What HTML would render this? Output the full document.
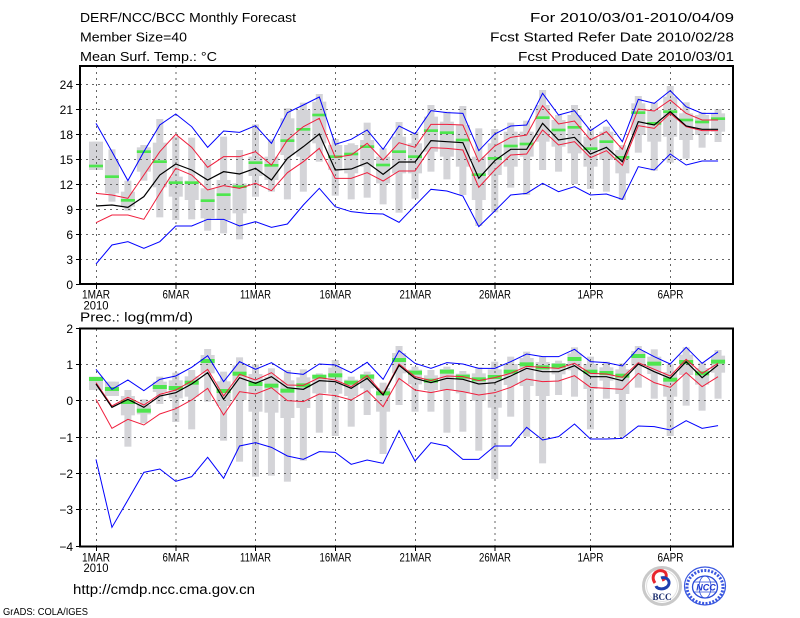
<!DOCTYPE html>
<html><head><meta charset="utf-8"><style>
html,body{margin:0;padding:0;background:#fff;}
svg{display:block;}
text{font-family:"Liberation Sans","Noto Sans CJK SC",sans-serif;fill:#000;}
.ln{fill:none;vector-effect:non-scaling-stroke;stroke-linejoin:miter;}
.bl{stroke:#0000ff;stroke-width:1;}
.rd{stroke:#f01e3c;stroke-width:1;}
.bk{stroke:#000;stroke-width:1.2;}
.gr{fill:#d4d4d8;}
.gn{fill:#4ee64e;}
.grid{stroke:#666;stroke-width:1;stroke-dasharray:2 4;fill:none;}
</style></head><body>
<svg width="800" height="618" viewBox="0 0 800 618" xmlns="http://www.w3.org/2000/svg">
<rect width="800" height="618" fill="#fff"/>

<!-- Header -->
<text x="80" y="22" font-size="13" textLength="216" lengthAdjust="spacingAndGlyphs">DERF/NCC/BCC Monthly Forecast</text>
<text x="80" y="41.5" font-size="13" textLength="107" lengthAdjust="spacingAndGlyphs">Member Size=40</text>
<text x="80" y="61" font-size="13" textLength="137" lengthAdjust="spacingAndGlyphs">Mean Surf. Temp.: °C</text>
<text x="734" y="22" font-size="13" text-anchor="end" textLength="204" lengthAdjust="spacingAndGlyphs">For 2010/03/01-2010/04/09</text>
<text x="734" y="41.5" font-size="13" text-anchor="end" textLength="244" lengthAdjust="spacingAndGlyphs">Fcst Started Refer Date 2010/02/28</text>
<text x="734" y="61" font-size="13" text-anchor="end" textLength="216" lengthAdjust="spacingAndGlyphs">Fcst Produced Date 2010/03/01</text>

<!-- ================= TOP CHART ================= -->
<g transform="translate(96,60) scale(15.95,0.333333)">
<g class="gr">
<rect x="-0.22" y="245" width="0.44" height="85"/><rect x="0.78" y="268" width="0.44" height="157"/><rect x="1.78" y="362" width="0.44" height="90"/><rect x="2.78" y="255" width="0.44" height="107"/><rect x="3.78" y="177" width="0.44" height="295"/><rect x="4.78" y="230" width="0.44" height="250"/><rect x="5.78" y="233" width="0.44" height="245"/><rect x="6.78" y="300" width="0.44" height="212"/><rect x="7.78" y="230" width="0.44" height="290"/><rect x="8.78" y="270" width="0.44" height="268"/>
<rect x="9.78" y="193" width="0.44" height="217"/><rect x="10.78" y="238" width="0.44" height="157"/><rect x="11.78" y="145" width="0.44" height="273"/><rect x="12.78" y="128" width="0.44" height="267"/><rect x="13.78" y="102" width="0.44" height="203"/><rect x="14.78" y="237" width="0.44" height="170"/><rect x="15.78" y="250" width="0.44" height="168"/><rect x="16.78" y="188" width="0.44" height="225"/><rect x="17.78" y="265" width="0.44" height="168"/><rect x="18.78" y="186" width="0.44" height="272"/>
<rect x="19.78" y="216" width="0.44" height="200"/><rect x="20.78" y="135" width="0.44" height="200"/><rect x="21.78" y="155" width="0.44" height="203"/><rect x="22.78" y="138" width="0.44" height="267"/><rect x="23.78" y="205" width="0.44" height="293"/><rect x="24.78" y="207" width="0.44" height="250"/><rect x="25.78" y="188" width="0.44" height="195"/><rect x="26.78" y="182" width="0.44" height="223"/><rect x="27.78" y="90" width="0.44" height="240"/><rect x="28.78" y="165" width="0.44" height="170"/>
<rect x="29.78" y="135" width="0.44" height="237"/><rect x="30.78" y="205" width="0.44" height="182"/><rect x="31.78" y="200" width="0.44" height="195"/><rect x="32.78" y="255" width="0.44" height="165"/><rect x="33.78" y="108" width="0.44" height="170"/><rect x="34.78" y="127" width="0.44" height="205"/><rect x="35.78" y="78" width="0.44" height="230"/><rect x="36.78" y="127" width="0.44" height="169"/><rect x="37.78" y="157" width="0.44" height="106"/><rect x="38.78" y="147" width="0.44" height="99"/>
<rect x="-0.44" y="245" width="0.88" height="85"/><rect x="0.56" y="300" width="0.88" height="100"/><rect x="1.56" y="395" width="0.88" height="45"/><rect x="2.56" y="262" width="0.88" height="73"/><rect x="3.56" y="248" width="0.88" height="134"/><rect x="4.56" y="350" width="0.88" height="60"/><rect x="5.56" y="362" width="0.88" height="58"/><rect x="6.56" y="385" width="0.88" height="90"/><rect x="7.56" y="360" width="0.88" height="120"/><rect x="8.56" y="370" width="0.88" height="90"/>
<rect x="9.56" y="290" width="0.88" height="58"/><rect x="10.56" y="290" width="0.88" height="70"/><rect x="11.56" y="175" width="0.88" height="110"/><rect x="12.56" y="150" width="0.88" height="140"/><rect x="13.56" y="125" width="0.88" height="125"/><rect x="14.56" y="255" width="0.88" height="75"/><rect x="15.56" y="255" width="0.88" height="85"/><rect x="16.56" y="240" width="0.88" height="80"/><rect x="17.56" y="290" width="0.88" height="80"/><rect x="18.56" y="230" width="0.88" height="110"/>
<rect x="19.56" y="250" width="0.88" height="90"/><rect x="20.56" y="170" width="0.88" height="105"/><rect x="21.56" y="185" width="0.88" height="105"/><rect x="22.56" y="195" width="0.88" height="125"/><rect x="23.56" y="290" width="0.88" height="130"/><rect x="24.56" y="250" width="0.88" height="95"/><rect x="25.56" y="215" width="0.88" height="105"/><rect x="26.56" y="215" width="0.88" height="75"/><rect x="27.56" y="135" width="0.88" height="110"/><rect x="28.56" y="180" width="0.88" height="80"/>
<rect x="29.56" y="165" width="0.88" height="115"/><rect x="30.56" y="230" width="0.88" height="90"/><rect x="31.56" y="215" width="0.88" height="85"/><rect x="32.56" y="270" width="0.88" height="70"/><rect x="33.56" y="130" width="0.88" height="95"/><rect x="34.56" y="150" width="0.88" height="95"/><rect x="35.56" y="110" width="0.88" height="120"/><rect x="36.56" y="160" width="0.88" height="80"/><rect x="37.56" y="165" width="0.88" height="60"/><rect x="38.56" y="160" width="0.88" height="55"/>
</g>
</g>

<!-- top grid -->
<g class="grid">
<line x1="80" y1="259.5" x2="733" y2="259.5"/><line x1="80" y1="234.5" x2="733" y2="234.5"/><line x1="80" y1="209.5" x2="733" y2="209.5"/><line x1="80" y1="184.5" x2="733" y2="184.5"/><line x1="80" y1="159.5" x2="733" y2="159.5"/><line x1="80" y1="134.5" x2="733" y2="134.5"/><line x1="80" y1="109.5" x2="733" y2="109.5"/><line x1="80" y1="84.5" x2="733" y2="84.5"/>
<line x1="96.5" y1="66" x2="96.5" y2="284"/><line x1="176" y1="66" x2="176" y2="284"/><line x1="255.5" y1="66" x2="255.5" y2="284"/><line x1="335.5" y1="66" x2="335.5" y2="284"/><line x1="415.5" y1="66" x2="415.5" y2="284"/><line x1="495" y1="66" x2="495" y2="284"/><line x1="590.5" y1="66" x2="590.5" y2="284"/><line x1="670.5" y1="66" x2="670.5" y2="284"/>
</g>

<g transform="translate(96,60) scale(15.95,0.333333)">
<g class="gn">
<rect x="-0.44" y="314" width="0.88" height="8"/><rect x="0.56" y="346" width="0.88" height="8"/><rect x="1.56" y="417" width="0.88" height="8"/><rect x="2.56" y="271" width="0.88" height="8"/><rect x="3.56" y="301" width="0.88" height="8"/><rect x="4.56" y="364" width="0.88" height="8"/><rect x="5.56" y="364" width="0.88" height="8"/><rect x="6.56" y="418" width="0.88" height="8"/><rect x="7.56" y="400" width="0.88" height="8"/><rect x="8.56" y="376" width="0.88" height="8"/>
<rect x="9.56" y="304" width="0.88" height="8"/><rect x="10.56" y="312" width="0.88" height="8"/><rect x="11.56" y="238" width="0.88" height="8"/><rect x="12.56" y="204" width="0.88" height="8"/><rect x="13.56" y="161" width="0.88" height="8"/><rect x="14.56" y="286" width="0.88" height="8"/><rect x="15.56" y="278" width="0.88" height="8"/><rect x="16.56" y="256" width="0.88" height="8"/><rect x="17.56" y="311" width="0.88" height="8"/><rect x="18.56" y="271" width="0.88" height="8"/>
<rect x="19.56" y="286" width="0.88" height="8"/><rect x="20.56" y="208" width="0.88" height="8"/><rect x="21.56" y="214" width="0.88" height="8"/><rect x="22.56" y="236" width="0.88" height="8"/><rect x="23.56" y="340" width="0.88" height="8"/><rect x="24.56" y="291" width="0.88" height="8"/><rect x="25.56" y="254" width="0.88" height="8"/><rect x="26.56" y="248" width="0.88" height="8"/><rect x="27.56" y="169" width="0.88" height="8"/><rect x="28.56" y="206" width="0.88" height="8"/>
<rect x="29.56" y="198" width="0.88" height="8"/><rect x="30.56" y="262" width="0.88" height="8"/><rect x="31.56" y="241" width="0.88" height="8"/><rect x="32.56" y="288" width="0.88" height="8"/><rect x="33.56" y="154" width="0.88" height="8"/><rect x="34.56" y="186" width="0.88" height="8"/><rect x="35.56" y="151" width="0.88" height="8"/><rect x="36.56" y="176" width="0.88" height="8"/><rect x="37.56" y="182" width="0.88" height="8"/><rect x="38.56" y="172" width="0.88" height="8"/>
</g>
<polyline class="ln bl" points="0,190 1,275 2,362 3,275 4,195 5,162 6,200 7,262 8,213 9,217 10,197 11,250 12,158 13,135 14,111 15,253 16,238 17,210 18,268 19,198 20,222 21,152 22,158 23,160 24,272 25,222 26,198 27,195 28,100 29,165 30,152 31,212 32,180 33,245 34,118 35,130 36,92 37,140 38,160 39,160"/>
<polyline class="ln bl" points="0,612 1,555 2,545 3,565 4,545 5,498 6,498 7,478 8,478 9,498 10,485 11,502 12,492 13,435 14,385 15,440 16,455 17,460 18,462 19,487 20,437 21,388 22,393 23,408 24,500 25,453 26,405 27,400 28,370 29,395 30,380 31,405 32,402 33,418 34,320 35,330 36,282 37,315 38,303 39,303"/>
<polyline class="ln rd" points="0,400 1,405 2,415 3,345 4,275 5,223 6,262 7,322 8,290 9,290 10,275 11,315 12,240 13,200 14,175 15,292 16,285 17,250 18,300 19,248 20,262 21,193 22,193 23,195 24,305 25,258 26,232 27,225 28,137 29,192 30,183 31,240 32,215 33,268 34,147 35,153 36,120 37,160 38,180 39,180"/>
<polyline class="ln rd" points="0,488 1,465 2,465 3,478 4,400 5,325 6,345 7,390 8,377 9,385 10,370 11,392 12,338 13,305 14,265 15,355 16,355 17,338 18,363 19,333 20,333 21,263 22,265 23,270 24,382 25,330 26,285 27,282 28,210 29,255 30,245 31,293 32,272 33,316 34,197 35,205 36,160 37,200 38,212 39,212"/>
<polyline class="ln bk" points="0,438 1,435 2,442 3,410 4,345 5,312 6,330 7,360 8,335 9,342 10,325 11,360 12,295 13,260 14,222 15,330 16,327 17,308 18,343 19,306 20,306 21,242 22,245 23,248 24,355 25,302 26,268 27,268 28,190 29,240 30,232 31,282 32,262 33,305 34,185 35,195 36,155 37,198 38,208 39,208"/>
</g>

<rect x="80" y="66" width="653" height="218" fill="none" stroke="#000" stroke-width="2"/>
<g stroke="#000" stroke-width="1">
<line x1="76" y1="284.5" x2="80" y2="284.5"/><line x1="76" y1="259.5" x2="80" y2="259.5"/><line x1="76" y1="234.5" x2="80" y2="234.5"/><line x1="76" y1="209.5" x2="80" y2="209.5"/><line x1="76" y1="184.5" x2="80" y2="184.5"/><line x1="76" y1="159.5" x2="80" y2="159.5"/><line x1="76" y1="134.5" x2="80" y2="134.5"/><line x1="76" y1="109.5" x2="80" y2="109.5"/><line x1="76" y1="84.5" x2="80" y2="84.5"/>
<line x1="96.5" y1="285" x2="96.5" y2="289"/><line x1="176" y1="285" x2="176" y2="289"/><line x1="255.5" y1="285" x2="255.5" y2="289"/><line x1="335.5" y1="285" x2="335.5" y2="289"/><line x1="415.5" y1="285" x2="415.5" y2="289"/><line x1="495" y1="285" x2="495" y2="289"/><line x1="590.5" y1="285" x2="590.5" y2="289"/><line x1="670.5" y1="285" x2="670.5" y2="289"/>
</g>
<g font-size="12" text-anchor="end">
<text x="73" y="289">0</text><text x="73" y="264">3</text><text x="73" y="239">6</text><text x="73" y="214">9</text><text x="73" y="189">12</text><text x="73" y="164">15</text><text x="73" y="139">18</text><text x="73" y="114">21</text><text x="73" y="89">24</text>
</g>
<g font-size="11.5" text-anchor="middle">
<text x="96" y="298.5" textLength="28" lengthAdjust="spacingAndGlyphs">1MAR</text>
<text x="96" y="309.5" textLength="25" lengthAdjust="spacingAndGlyphs">2010</text>
<text x="176" y="298.5" textLength="27" lengthAdjust="spacingAndGlyphs">6MAR</text>
<text x="255.5" y="298.5" textLength="31" lengthAdjust="spacingAndGlyphs">11MAR</text>
<text x="335.5" y="298.5" textLength="32" lengthAdjust="spacingAndGlyphs">16MAR</text>
<text x="415.5" y="298.5" textLength="32" lengthAdjust="spacingAndGlyphs">21MAR</text>
<text x="495" y="298.5" textLength="32" lengthAdjust="spacingAndGlyphs">26MAR</text>
<text x="590.5" y="298.5" textLength="26" lengthAdjust="spacingAndGlyphs">1APR</text>
<text x="670.5" y="298.5" textLength="26" lengthAdjust="spacingAndGlyphs">6APR</text>
</g>

<!-- ================= BOTTOM CHART ================= -->
<text x="80" y="321.5" font-size="13" textLength="113" lengthAdjust="spacingAndGlyphs">Prec.: log(mm/d)</text>

<g transform="translate(96,310) scale(15.95,0.333333)">
<g class="gr">
<rect x="-0.22" y="200" width="0.44" height="40"/><rect x="0.78" y="215" width="0.44" height="43"/><rect x="1.78" y="240" width="0.44" height="170"/><rect x="2.78" y="268" width="0.44" height="72"/><rect x="3.78" y="200" width="0.44" height="82"/><rect x="4.78" y="188" width="0.44" height="148"/><rect x="5.78" y="180" width="0.44" height="178"/><rect x="6.78" y="117" width="0.44" height="158"/><rect x="7.78" y="185" width="0.44" height="207"/><rect x="8.78" y="142" width="0.44" height="313"/>
<rect x="9.78" y="163" width="0.44" height="337"/><rect x="10.78" y="175" width="0.44" height="322"/><rect x="11.78" y="180" width="0.44" height="335"/><rect x="12.78" y="178" width="0.44" height="274"/><rect x="13.78" y="190" width="0.44" height="178"/><rect x="14.78" y="150" width="0.44" height="228"/><rect x="15.78" y="200" width="0.44" height="150"/><rect x="16.78" y="185" width="0.44" height="130"/><rect x="17.78" y="218" width="0.44" height="214"/><rect x="18.78" y="108" width="0.44" height="177"/>
<rect x="19.78" y="170" width="0.44" height="135"/><rect x="20.78" y="180" width="0.44" height="125"/><rect x="21.78" y="170" width="0.44" height="198"/><rect x="22.78" y="183" width="0.44" height="182"/><rect x="23.78" y="172" width="0.44" height="250"/><rect x="24.78" y="155" width="0.44" height="352"/><rect x="25.78" y="140" width="0.44" height="180"/><rect x="26.78" y="125" width="0.44" height="255"/><rect x="27.78" y="140" width="0.44" height="320"/><rect x="28.78" y="152" width="0.44" height="103"/>
<rect x="29.78" y="112" width="0.44" height="148"/><rect x="30.78" y="140" width="0.44" height="218"/><rect x="31.78" y="155" width="0.44" height="111"/><rect x="32.78" y="160" width="0.44" height="220"/><rect x="33.78" y="108" width="0.44" height="125"/><rect x="34.78" y="118" width="0.44" height="148"/><rect x="35.78" y="163" width="0.44" height="215"/><rect x="36.78" y="112" width="0.44" height="175"/><rect x="37.78" y="158" width="0.44" height="144"/><rect x="38.78" y="120" width="0.44" height="146"/>
<rect x="-0.44" y="200" width="0.88" height="40"/><rect x="0.56" y="215" width="0.88" height="43"/><rect x="1.56" y="258" width="0.88" height="58"/><rect x="2.56" y="285" width="0.88" height="28"/><rect x="3.56" y="215" width="0.88" height="31"/><rect x="4.56" y="211" width="0.88" height="54"/><rect x="5.56" y="199" width="0.88" height="61"/><rect x="6.56" y="135" width="0.88" height="55"/><rect x="7.56" y="214" width="0.88" height="74"/><rect x="8.56" y="166" width="0.88" height="104"/>
<rect x="9.56" y="192" width="0.88" height="113"/><rect x="10.56" y="201" width="0.88" height="107"/><rect x="11.56" y="211" width="0.88" height="113"/><rect x="12.56" y="202" width="0.88" height="92"/><rect x="13.56" y="195" width="0.88" height="55"/><rect x="14.56" y="173" width="0.88" height="78"/><rect x="15.56" y="209" width="0.88" height="49"/><rect x="16.56" y="192" width="0.88" height="43"/><rect x="17.56" y="234" width="0.88" height="71"/><rect x="18.56" y="129" width="0.88" height="61"/>
<rect x="19.56" y="179" width="0.88" height="44"/><rect x="20.56" y="196" width="0.88" height="44"/><rect x="21.56" y="177" width="0.88" height="63"/><rect x="22.56" y="191" width="0.88" height="59"/><rect x="23.56" y="190" width="0.88" height="82"/><rect x="24.56" y="178" width="0.88" height="115"/><rect x="25.56" y="162" width="0.88" height="63"/><rect x="26.56" y="144" width="0.88" height="84"/><rect x="27.56" y="156" width="0.88" height="102"/><rect x="28.56" y="159" width="0.88" height="34"/>
<rect x="29.56" y="130" width="0.88" height="51"/><rect x="30.56" y="162" width="0.88" height="75"/><rect x="31.56" y="172" width="0.88" height="40"/><rect x="32.56" y="178" width="0.88" height="74"/><rect x="33.56" y="123" width="0.88" height="44"/><rect x="34.56" y="140" width="0.88" height="52"/><rect x="35.56" y="186" width="0.88" height="74"/><rect x="36.56" y="134" width="0.88" height="61"/><rect x="37.56" y="174" width="0.88" height="50"/><rect x="38.56" y="137" width="0.88" height="51"/>
</g>
</g>

<g class="grid">
<line x1="80" y1="364.5" x2="733" y2="364.5"/><line x1="80" y1="400.5" x2="733" y2="400.5"/><line x1="80" y1="437.5" x2="733" y2="437.5"/><line x1="80" y1="473.5" x2="733" y2="473.5"/><line x1="80" y1="509.5" x2="733" y2="509.5"/>
<line x1="96.5" y1="329" x2="96.5" y2="546"/><line x1="176" y1="329" x2="176" y2="546"/><line x1="255.5" y1="329" x2="255.5" y2="546"/><line x1="335.5" y1="329" x2="335.5" y2="546"/><line x1="415.5" y1="329" x2="415.5" y2="546"/><line x1="495" y1="329" x2="495" y2="546"/><line x1="590.5" y1="329" x2="590.5" y2="546"/><line x1="670.5" y1="329" x2="670.5" y2="546"/>
</g>

<g transform="translate(96,310) scale(15.95,0.333333)">
<g class="gn">
<rect x="-0.44" y="201" width="0.88" height="12"/><rect x="0.56" y="231" width="0.88" height="12"/><rect x="1.56" y="270" width="0.88" height="12"/><rect x="2.56" y="296" width="0.88" height="12"/><rect x="3.56" y="225" width="0.88" height="12"/><rect x="4.56" y="228" width="0.88" height="12"/><rect x="5.56" y="212" width="0.88" height="12"/><rect x="6.56" y="147" width="0.88" height="12"/><rect x="7.56" y="237" width="0.88" height="12"/><rect x="8.56" y="185" width="0.88" height="12"/>
<rect x="9.56" y="216" width="0.88" height="12"/><rect x="10.56" y="221" width="0.88" height="12"/><rect x="11.56" y="236" width="0.88" height="12"/><rect x="12.56" y="220" width="0.88" height="12"/><rect x="13.56" y="194" width="0.88" height="12"/><rect x="14.56" y="190" width="0.88" height="12"/><rect x="15.56" y="212" width="0.88" height="12"/><rect x="16.56" y="194" width="0.88" height="12"/><rect x="17.56" y="244" width="0.88" height="12"/><rect x="18.56" y="144" width="0.88" height="12"/>
<rect x="19.56" y="182" width="0.88" height="12"/><rect x="20.56" y="206" width="0.88" height="12"/><rect x="21.56" y="179" width="0.88" height="12"/><rect x="22.56" y="194" width="0.88" height="12"/><rect x="23.56" y="202" width="0.88" height="12"/><rect x="24.56" y="195" width="0.88" height="12"/><rect x="25.56" y="179" width="0.88" height="12"/><rect x="26.56" y="157" width="0.88" height="12"/><rect x="27.56" y="166" width="0.88" height="12"/><rect x="28.56" y="161" width="0.88" height="12"/>
<rect x="29.56" y="141" width="0.88" height="12"/><rect x="30.56" y="179" width="0.88" height="12"/><rect x="31.56" y="183" width="0.88" height="12"/><rect x="32.56" y="191" width="0.88" height="12"/><rect x="33.56" y="132" width="0.88" height="12"/><rect x="34.56" y="155" width="0.88" height="12"/><rect x="35.56" y="203" width="0.88" height="12"/><rect x="36.56" y="150" width="0.88" height="12"/><rect x="37.56" y="184" width="0.88" height="12"/><rect x="38.56" y="149" width="0.88" height="12"/>
</g>
<polyline class="ln bl" points="0,178 1,238 2,210 3,242 4,208 5,198 6,172 7,137 8,215 9,155 10,178 11,158 12,188 13,193 14,162 15,165 16,188 17,157 18,208 19,122 20,160 21,175 22,158 23,162 24,175 25,175 26,155 27,132 28,140 29,140 30,118 31,155 32,158 33,168 34,115 35,140 36,162 37,112 38,160 39,125"/>
<polyline class="ln bl" points="0,448 1,652 2,570 3,487 4,477 5,514 6,500 7,442 8,505 9,408 10,398 11,412 12,438 13,448 14,425 15,427 16,463 17,450 18,460 19,362 20,453 21,398 22,408 23,448 24,448 25,408 26,408 27,352 28,390 29,380 30,342 31,387 32,387 33,385 34,348 35,350 36,360 37,332 38,355 39,347"/>
<polyline class="ln rd" points="0,268 1,355 2,328 3,345 4,312 5,296 6,270 7,235 8,315 9,245 10,252 11,233 12,272 13,275 14,252 15,257 16,270 17,242 18,290 19,205 20,240 21,248 22,238 23,245 24,255 25,248 26,232 27,207 28,215 29,213 30,197 31,232 32,235 33,238 34,190 35,218 36,232 37,188 38,230 39,200"/>
<polyline class="ln rd" points="0,218 1,288 2,262 3,285 4,253 5,240 6,213 7,178 8,258 9,193 10,210 11,188 12,225 13,226 14,203 15,210 16,230 17,197 18,252 19,162 20,200 21,212 22,198 23,200 24,212 25,203 26,190 27,169 28,172 29,175 30,160 31,190 32,192 33,202 34,158 35,178 36,198 37,148 38,190 39,160"/>
<polyline class="ln bk" points="0,222 1,292 2,268 3,292 4,258 5,248 6,222 7,188 8,268 9,203 10,220 11,200 12,233 13,238 14,212 15,215 16,235 17,205 18,255 19,166 20,205 21,218 22,205 23,208 24,222 25,218 26,198 27,175 28,185 29,185 30,167 31,200 32,200 33,212 34,162 35,185 36,205 37,155 38,203 39,165"/>
</g>

<rect x="80" y="328.5" width="653" height="218" fill="none" stroke="#000" stroke-width="2"/>
<g stroke="#000" stroke-width="1">
<line x1="76" y1="328.5" x2="80" y2="328.5"/><line x1="76" y1="364.5" x2="80" y2="364.5"/><line x1="76" y1="400.5" x2="80" y2="400.5"/><line x1="76" y1="437.5" x2="80" y2="437.5"/><line x1="76" y1="473.5" x2="80" y2="473.5"/><line x1="76" y1="509.5" x2="80" y2="509.5"/><line x1="76" y1="546.5" x2="80" y2="546.5"/>
<line x1="96.5" y1="547" x2="96.5" y2="551"/><line x1="176" y1="547" x2="176" y2="551"/><line x1="255.5" y1="547" x2="255.5" y2="551"/><line x1="335.5" y1="547" x2="335.5" y2="551"/><line x1="415.5" y1="547" x2="415.5" y2="551"/><line x1="495" y1="547" x2="495" y2="551"/><line x1="590.5" y1="547" x2="590.5" y2="551"/><line x1="670.5" y1="547" x2="670.5" y2="551"/>
</g>
<g font-size="12" text-anchor="end">
<text x="73" y="333">2</text><text x="73" y="369">1</text><text x="73" y="405">0</text><text x="73" y="442">−1</text><text x="73" y="478">−2</text><text x="73" y="514">−3</text><text x="73" y="551">−4</text>
</g>
<g font-size="11.5" text-anchor="middle">
<text x="96" y="561.5" textLength="28" lengthAdjust="spacingAndGlyphs">1MAR</text>
<text x="96" y="572" textLength="25" lengthAdjust="spacingAndGlyphs">2010</text>
<text x="176" y="561.5" textLength="27" lengthAdjust="spacingAndGlyphs">6MAR</text>
<text x="255.5" y="561.5" textLength="31" lengthAdjust="spacingAndGlyphs">11MAR</text>
<text x="335.5" y="561.5" textLength="32" lengthAdjust="spacingAndGlyphs">16MAR</text>
<text x="415.5" y="561.5" textLength="32" lengthAdjust="spacingAndGlyphs">21MAR</text>
<text x="495" y="561.5" textLength="32" lengthAdjust="spacingAndGlyphs">26MAR</text>
<text x="590.5" y="561.5" textLength="26" lengthAdjust="spacingAndGlyphs">1APR</text>
<text x="670.5" y="561.5" textLength="26" lengthAdjust="spacingAndGlyphs">6APR</text>
</g>

<!-- Footer -->
<text x="73" y="594" font-size="13.5" textLength="182" lengthAdjust="spacingAndGlyphs">http://cmdp.ncc.cma.gov.cn</text>
<text x="3" y="615" font-size="10" textLength="85" lengthAdjust="spacingAndGlyphs">GrADS: COLA/IGES</text>

<!-- BCC logo -->
<circle cx="662" cy="586" r="18.5" fill="#fff" stroke="#c9c9c9" stroke-width="3"/>
<circle cx="662" cy="586" r="15.5" fill="none" stroke="#e2e2e2" stroke-width="1"/>
<path d="M655,583 C650,576 656,569 663,571 C668,573 667,579 662,580" fill="none" stroke="#e8262d" stroke-width="3"/>
<path d="M661,578 C667,576 672,582 667,587 C663,590 657,589 656,586" fill="none" stroke="#1f3fae" stroke-width="3"/>
<text x="662" y="600" font-size="9" font-weight="bold" text-anchor="middle" style="font-family:'Liberation Serif',serif;fill:#1c2e6e">BCC</text>

<!-- NCC logo -->
<ellipse cx="705" cy="586" rx="20.5" ry="19" fill="#fff" stroke="#3a58e0" stroke-width="1.2"/>
<ellipse cx="705" cy="587" rx="18" ry="16.5" fill="none" stroke="#3a58e0" stroke-width="3" stroke-dasharray="2 1.5"/>
<ellipse cx="705" cy="587" rx="12.5" ry="11" fill="#fff" stroke="#2c4cd8" stroke-width="1.3"/>
<ellipse cx="705" cy="587" rx="6" ry="11" fill="none" stroke="#2c4cd8" stroke-width="0.8"/>
<line x1="693" y1="582" x2="717" y2="582" stroke="#2c4cd8" stroke-width="0.8"/>
<line x1="693" y1="592" x2="717" y2="592" stroke="#2c4cd8" stroke-width="0.8"/>
<text x="706" y="590.5" font-size="9" font-weight="bold" font-style="italic" text-anchor="middle" style="fill:#1f3ad0">NCC</text>
</svg>
</body></html>
